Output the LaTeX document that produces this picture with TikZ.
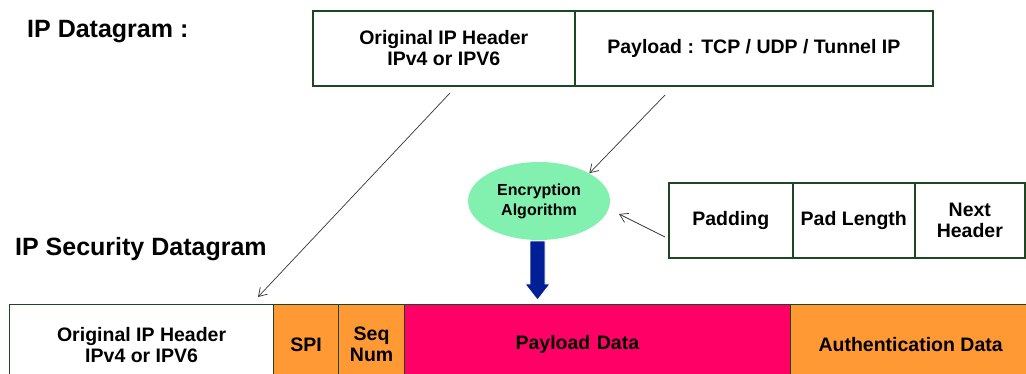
\documentclass[tikz,border=0pt]{standalone}
\usepackage{fontspec}
\setmainfont{Liberation Sans}
\usetikzlibrary{arrows.meta,shapes.geometric}
\definecolor{boxline}{RGB}{30,70,32}
\definecolor{orng}{RGB}{255,153,51}
\definecolor{pnk}{RGB}{255,0,102}
\definecolor{mint}{RGB}{130,240,175}
\definecolor{darkblue}{RGB}{0,30,150}
\tikzset{
  cell/.style={draw=boxline, line width=1.6pt, minimum height=75pt, inner sep=0pt, anchor=north west, align=center, font=\bfseries\fontsize{19.5}{21}\selectfont},
  bcell/.style={draw=boxline, line width=1.2pt, minimum height=80pt, inner sep=0pt, anchor=north west, align=center, font=\bfseries\fontsize{19.5}{21}\selectfont},
  title/.style={font=\bfseries\fontsize{25}{28}\selectfont, anchor=west, inner sep=0pt},
  thinarrow/.style={draw=black!80, line width=0.7pt, -{Straight Barb[length=8pt,width=10pt]}}
}
\begin{document}
\begin{tikzpicture}[x=1pt,y=-1pt]
\useasboundingbox (0,0) rectangle (1026,374);
% titles
\node[title] (t1) at (27,32) {IP Datagram :};
\node[title] (t2) at (15,249) {IP Security Datagram};
% top datagram
\node[cell, minimum width=262pt] (oh) at (312,10) {Original IP Header\\IPv4 or IPV6};
\node[cell, minimum width=358pt] (pl) at (574,10) {Payload : TCP / UDP / Tunnel IP};
% ellipse
\node[fill=mint, ellipse, minimum width=142pt, minimum height=78pt, inner sep=0pt, align=center, font=\bfseries\fontsize{16}{20}\selectfont] (enc) at (539,201) {Encryption\\Algorithm};
% right boxes
\node[cell, minimum width=124pt] (pad) at (668,182) {Padding};
\node[cell, minimum width=122pt] (padl) at (792,182) {Pad Length};
\node[cell, minimum width=110pt] (nh) at (914,182) {Next\\Header};
% bottom row
\node[bcell, minimum width=264pt, fill=white] (boh) at (9,304) {Original IP Header\\IPv4 or IPV6};
\node[bcell, minimum width=65pt, fill=orng] (spi) at (273,304) {SPI};
\node[bcell, minimum width=66pt, fill=orng] (seq) at (338,304) {Seq\\Num};
\node[bcell, minimum width=386pt, fill=pnk, text width=340pt, align=left] (pd) at (404,304) {\hspace*{88pt}Payload Data};
\node[bcell, minimum width=240pt, fill=orng] (ad) at (790,304) {Authentication Data};
% connectors
\coordinate (a1s) at (450,93);
\coordinate (a1e) at (258,297);
\draw[thinarrow] (a1s) -- (a1e);
\coordinate (a2s) at (665,95);
\draw[thinarrow] (a2s) -- (enc.north east);
\coordinate (a3s) at (665,237);
\coordinate (a3e) at (619,214);
\draw[thinarrow] (a3s) -- (a3e);
% blue arrow
\draw[draw=white, line width=0.8pt, fill=darkblue] (530,241) -- (545,241) -- (545,284) -- (550,284) -- (537.5,300) -- (525,284) -- (530,284) -- cycle;
\end{tikzpicture}
\end{document}
